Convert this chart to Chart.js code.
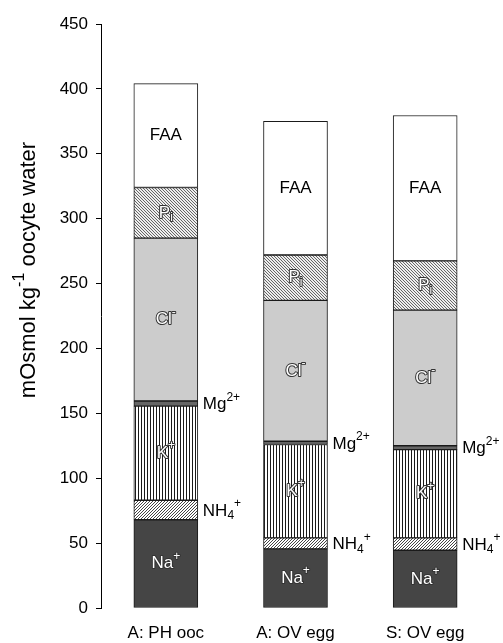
<!DOCTYPE html>
<html><head><meta charset="utf-8">
<script src="https://cdn.jsdelivr.net/npm/chart.js@4/dist/chart.umd.min.js"></script>
<style>html,body{margin:0;padding:0;background:#fff;overflow:hidden;}</style>
</head><body>
<canvas id="c" width="503" height="643"></canvas>
<script>
// ---- data (mOsmol kg-1 oocyte water) ----
const categories = ['A: PH ooc', 'A: OV egg', 'S: OV egg'];
const naValues  = [68, 45.5, 44.5];
const nh4Values = [15, 8.5, 9.5];
const kValues   = [72.5, 72, 68];
const mgValues  = [4, 2.5, 3];
const clValues  = [125.5, 108.5, 104.5];
const piValues  = [39, 35, 38];
const faaValues = [80, 103, 112];
const yTickStep = 50;
const yMax = 450;

const FONT = "'Liberation Sans', Arial, Helvetica, sans-serif";

function makePattern(size, bg, fg, pixels) {
  const c = document.createElement('canvas');
  c.width = size; c.height = size;
  const x = c.getContext('2d');
  x.fillStyle = bg; x.fillRect(0, 0, size, size);
  x.fillStyle = fg;
  pixels.forEach(p => x.fillRect(p[0], p[1], 1, 1));
  return x.createPattern(c, 'repeat');
}
const kPattern = makePattern(3, '#ffffff', '#1a1a1a', [[0,0],[0,1],[0,2]]);
const nh4Pattern = makePattern(3, '#ffffff', '#444444', [[0,2],[1,1],[2,0]]);
const piPattern = makePattern(3, '#eeeeee', '#666666', [[0,0],[1,1],[2,2]]);

const segLabels = [
  {parts: [{t:'Na'},{t:'+',sup:1}], mode: 'white'},
  {parts: [{t:'NH'},{t:'4',sub:1},{t:'+',sup:1}], mode: 'outside'},
  {parts: [{t:'K'},{t:'+',sup:1}], mode: 'white'},
  {parts: [{t:'Mg'},{t:'2+',sup:1}], mode: 'outside'},
  {parts: [{t:'Cl'},{t:'-',sup:1}], mode: 'white'},
  {parts: [{t:'P'},{t:'i',sub:1}], mode: 'white'},
  {parts: [{t:'FAA'}], mode: 'black'}
];

function partFont(p, size) {
  return (p.sup || p.sub ? Math.round(size * 0.72) : size) + 'px ' + FONT;
}
function richWidth(ctx, parts, size) {
  let w = 0;
  parts.forEach(p => { ctx.font = partFont(p, size); w += ctx.measureText(p.t).width; });
  return w;
}
function drawRich(ctx, parts, x, y, size, align, style) {
  const w = richWidth(ctx, parts, size);
  let cx = align === 'center' ? x - w / 2 : (align === 'right' ? x - w : x);
  ctx.textBaseline = 'middle';
  ctx.textAlign = 'left';
  parts.forEach(p => {
    ctx.font = partFont(p, size);
    let dy = 0;
    if (p.sup) dy = -size * 0.42;
    if (p.sub) dy = size * 0.3;
    if (style === 'white') {
      ctx.lineJoin = 'round';
      ctx.lineWidth = 2;
      ctx.strokeStyle = '#333';
      ctx.strokeText(p.t, cx, y + dy);
      ctx.fillStyle = '#ffffff';
      ctx.fillText(p.t, cx, y + dy);
    } else {
      ctx.fillStyle = '#000';
      ctx.fillText(p.t, cx, y + dy);
    }
    cx += ctx.measureText(p.t).width;
  });
}

const labelPlugin = {
  id: 'segLabels',
  afterDatasetsDraw(chart) {
    const ctx = chart.ctx;
    ctx.save();
    chart.data.datasets.forEach((ds, i) => {
      const meta = chart.getDatasetMeta(i);
      const lab = segLabels[i];
      meta.data.forEach(el => {
        const cy = (el.y + el.base) / 2;
        if (lab.mode === 'outside') {
          drawRich(ctx, lab.parts, el.x + el.width / 2 + 5, cy + 1, 17, 'left', 'black');
        } else {
          drawRich(ctx, lab.parts, el.x, cy, 17, 'center', lab.mode);
        }
      });
    });
    // y axis title
    ctx.translate(29, 270);
    ctx.rotate(-Math.PI / 2);
    drawRich(ctx, [{t:'mOsmol kg'},{t:'-1',sup:1},{t:' oocyte water'}], 0, 0, 22, 'center', 'black');
    ctx.restore();
  }
};

function ds(label, data, bg) {
  return {
    label, data, backgroundColor: bg,
    borderColor: '#1a1a1a', borderWidth: 1, borderSkipped: false,
    barThickness: 64
  };
}

new Chart(document.getElementById('c'), {
  type: 'bar',
  data: {
    labels: categories,
    datasets: [
      ds('Na+', naValues, '#454545'),
      ds('NH4+', nh4Values, nh4Pattern),
      ds('K+', kValues, kPattern),
      ds('Mg2+', mgValues, '#666666'),
      ds('Cl-', clValues, '#cccccc'),
      ds('Pi', piValues, piPattern),
      ds('FAA', faaValues, '#ffffff')
    ]
  },
  options: {
    responsive: false,
    devicePixelRatio: 1,
    animation: false,
    layout: {padding: {left: 59, right: 13, top: 24, bottom: 0}},
    plugins: {legend: {display: false}, tooltip: {enabled: false}},
    scales: {
      x: {
        stacked: true,
        grid: {display: false, drawTicks: false},
        border: {display: false},
        ticks: {color: '#000', font: {size: 17, family: FONT}, padding: 15},
        afterFit(scale) { scale.height = 35; }
      },
      y: {
        stacked: true,
        min: 0, max: yMax,
        ticks: {stepSize: yTickStep, color: '#000', font: {size: 17, family: FONT}, padding: 8},
        grid: {drawOnChartArea: false, tickLength: 5, tickColor: '#000'},
        border: {display: true, color: '#000', width: 1},
        afterFit(scale) { scale.width = 42; }
      }
    }
  },
  plugins: [labelPlugin]
});
</script>
</body></html>
